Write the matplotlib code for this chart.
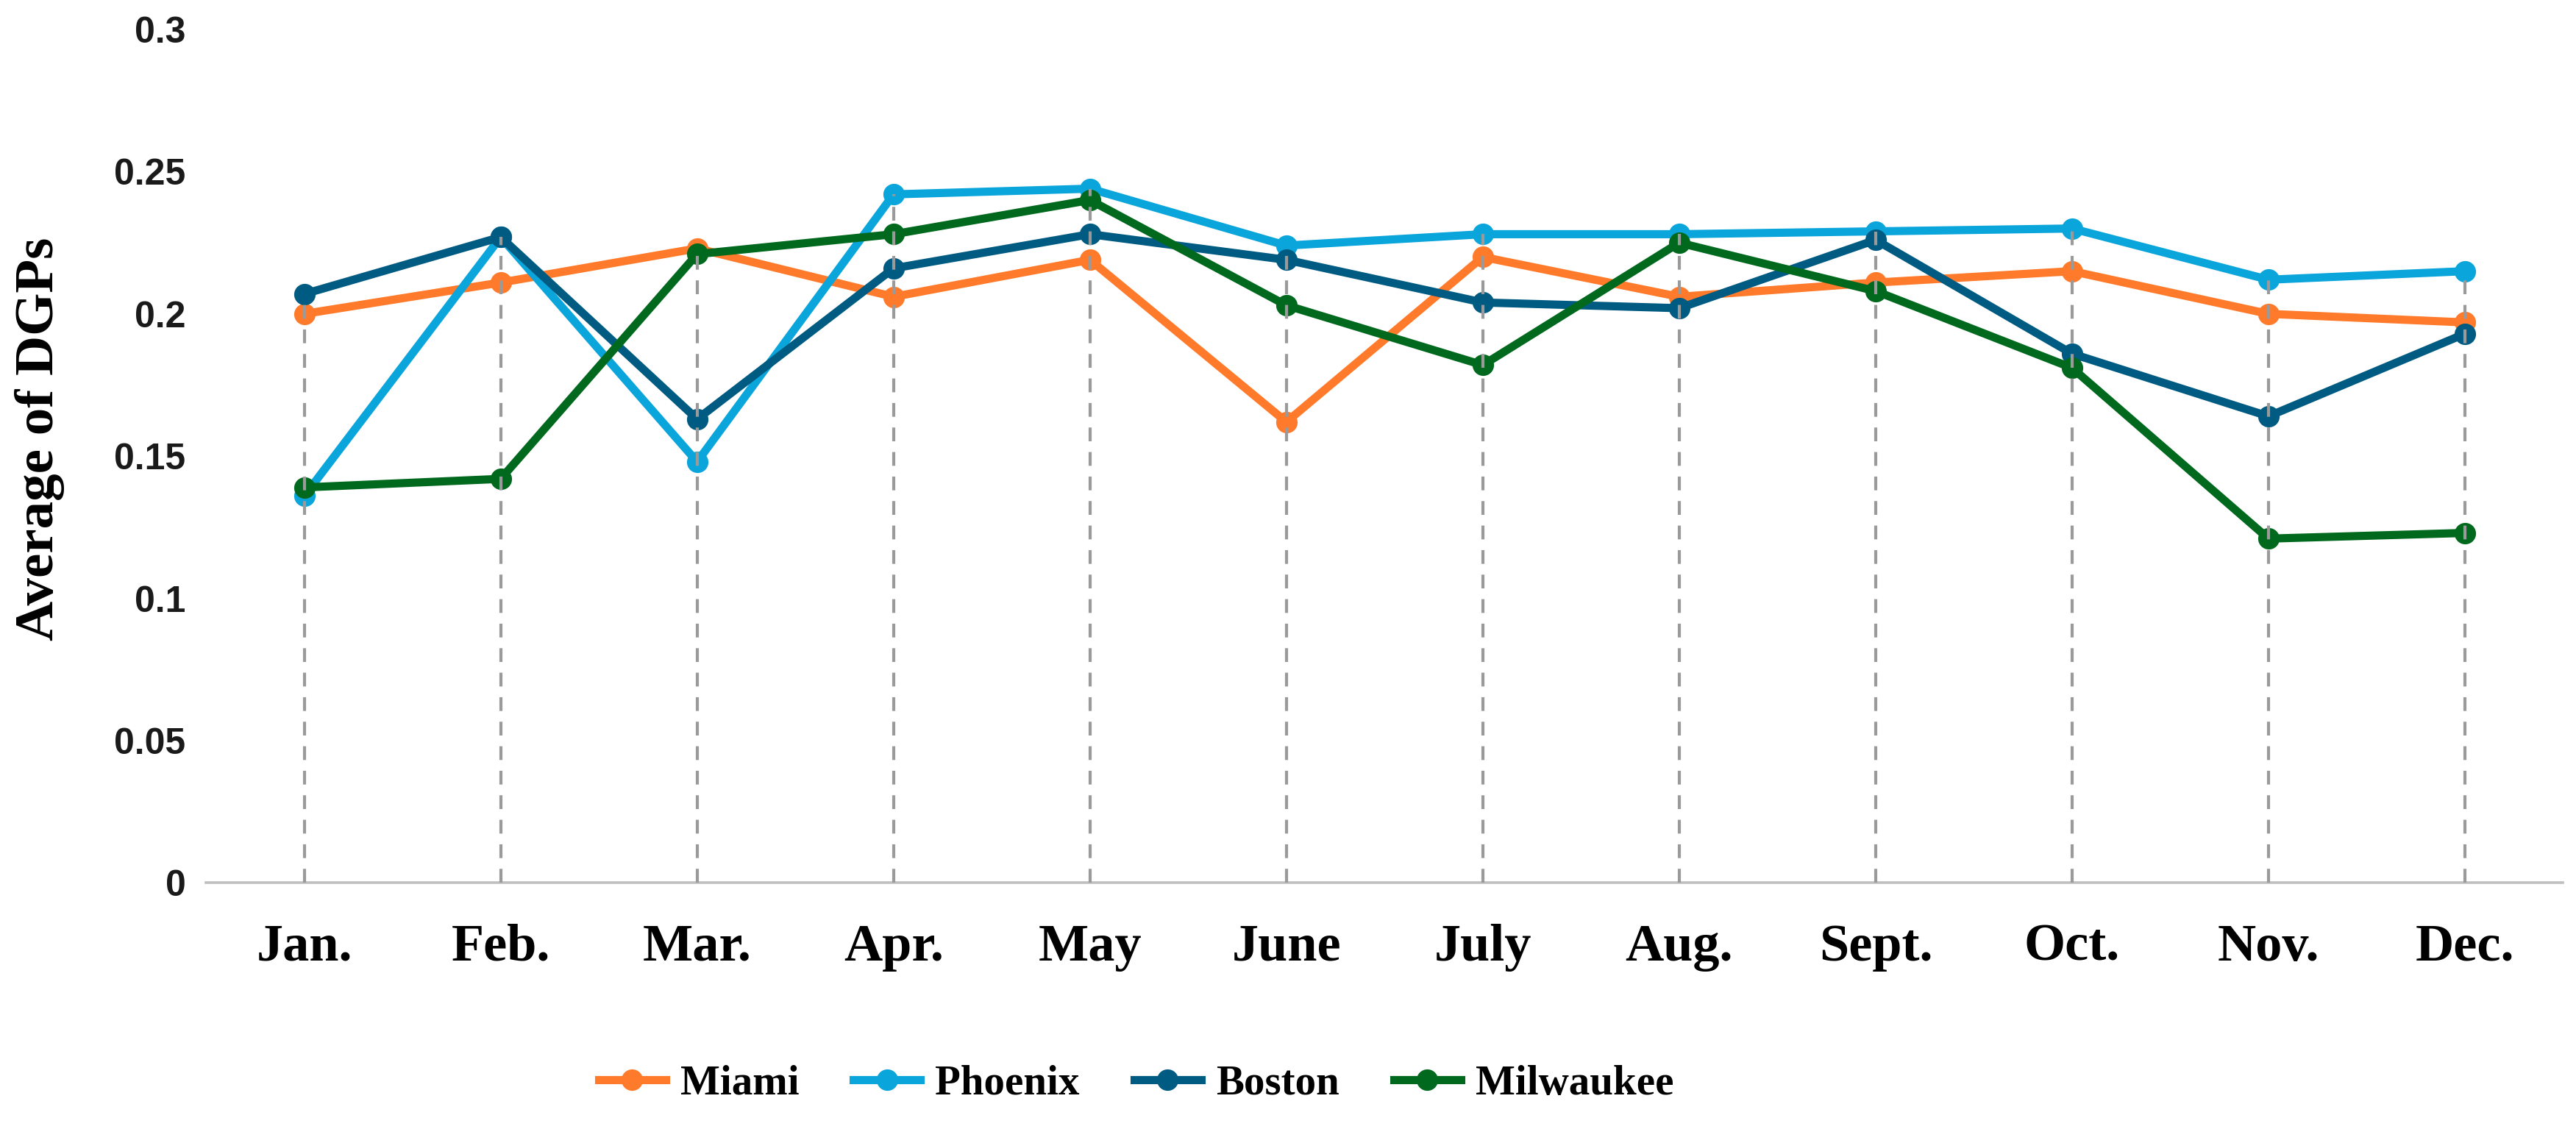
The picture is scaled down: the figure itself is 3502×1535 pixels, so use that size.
import matplotlib
matplotlib.use("Agg")
import matplotlib.pyplot as plt
import numpy as np

# ── Data ────────────────────────────────────────────────────────
months = ["Jan.", "Feb.", "Mar.", "Apr.", "May", "June",
          "July", "Aug.", "Sept.", "Oct.", "Nov.", "Dec."]

miami = [0.200, 0.211, 0.223, 0.206, 0.219, 0.162,
         0.220, 0.206, 0.211, 0.215, 0.200, 0.197]
phoenix = [0.136, 0.227, 0.148, 0.242, 0.244, 0.224,
           0.228, 0.228, 0.229, 0.230, 0.212, 0.215]
boston = [0.207, 0.227, 0.163, 0.216, 0.228, 0.219,
          0.204, 0.202, 0.226, 0.186, 0.164, 0.193]
milwaukee = [0.139, 0.142, 0.221, 0.228, 0.240, 0.203,
             0.182, 0.225, 0.208, 0.181, 0.121, 0.123]

series = [
    ("Miami", miami, "#FF7A2A"),
    ("Phoenix", phoenix, "#0AA5DA"),
    ("Boston", boston, "#005B82"),
    ("Milwaukee", milwaukee, "#00691E"),
]

SERIF = "Liberation Serif"
SANS = "Liberation Sans"

fig = plt.figure(figsize=(17.51, 7.675), dpi=200)
ax = fig.add_axes([0.080, 0.218, 0.915, 0.756])

x = np.arange(len(months))
for name, vals, col in series:
    ax.plot(x, vals, color=col, lw=4.0, marker="o", ms=9.5,
            markerfacecolor=col, markeredgecolor=col, label=name, zorder=3)

# Excel-style drop lines from the highest point down to the axis
tops = np.max(np.array([s[1] for s in series]), axis=0)
ax.vlines(x, 0, tops, colors="#9A9A9A", linestyles=(0, (4.5, 3.5)),
          lw=1.5, zorder=4)

ax.set_xlim(-0.5, len(months) - 0.5)
ax.set_ylim(0, 0.3)
ax.set_yticks([0, 0.05, 0.1, 0.15, 0.2, 0.25, 0.3])
ax.set_yticklabels(["0", "0.05", "0.1", "0.15", "0.2", "0.25", "0.3"],
                   fontsize=18, fontweight="bold", family=SANS, color="#1a1a1a")
ax.set_xticks(x)
ax.set_xticklabels(months, fontsize=26, fontweight="bold", family=SERIF)
ax.tick_params(axis="both", length=0)
ax.tick_params(axis="y", pad=10)
ax.tick_params(axis="x", pad=20)

for s in ["top", "right", "left"]:
    ax.spines[s].set_visible(False)
ax.spines["bottom"].set_color("#BFBFBF")
ax.spines["bottom"].set_linewidth(1.3)

ax.set_ylabel("Average of DGPs", fontsize=27, fontweight="bold",
              family=SERIF, labelpad=8)
ax.yaxis.set_label_coords(-0.06, 0.52)

leg = fig.legend(loc="center", bbox_to_anchor=(0.441, 0.040), ncol=4,
                 frameon=False, handlelength=1.6, columnspacing=1.3,
                 handletextpad=0.35,
                 prop={"family": SERIF, "weight": "bold", "size": 20.5})

fig.savefig("out.png", dpi=200, facecolor="white")
